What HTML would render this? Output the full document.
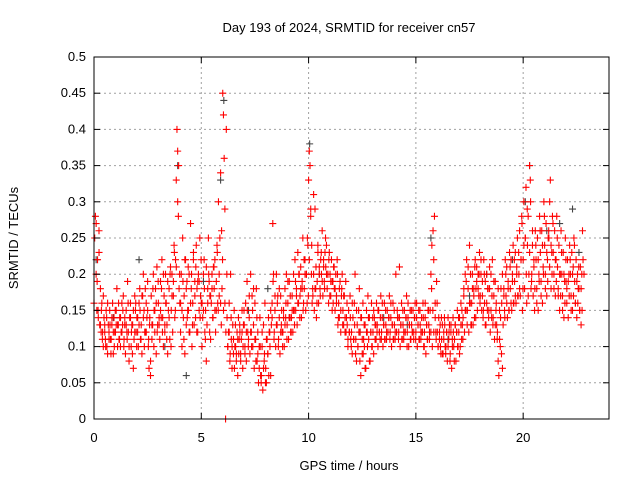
<!DOCTYPE html>
<html><head><meta charset="utf-8"><style>
body{margin:0;background:#fff}
svg{display:block;font-family:"Liberation Sans",sans-serif}
</style></head><body>
<svg id="chart" width="640" height="480">
<text x="349" y="32" font-size="13" text-anchor="middle">Day 193 of 2024, SRMTID for receiver cn57</text>
<text x="349" y="470" font-size="13" text-anchor="middle">GPS time / hours</text>
<text transform="translate(18,238) rotate(-90)" font-size="13" text-anchor="middle">SRMTID / TECUs</text>
<g id="grid"></g><g id="black"></g><g id="red"></g><g id="axes"></g>
</svg>
<script>
const xTicks=[0,5,10,15,20];
const yTicks=[0,0.05,0.1,0.15,0.2,0.25,0.3,0.35,0.4,0.45,0.5];
const yTickLabels=["0","0.05","0.1","0.15","0.2","0.25","0.3","0.35","0.4","0.45","0.5"];
const redTimes=[0,0.2,0.4,0.6,0.8,1,1.2,1.4,1.6,1.8,2,2.2,2.4,2.6,2.8,3,3.2,3.4,3.6,3.8,4,4.2,4.4,4.6,4.8,5,5.2,5.4,5.6,5.8,6,6.2,6.4,6.6,6.8,7,7.2,7.4,7.6,7.8,8,8.2,8.4,8.6,8.8,9,9.2,9.4,9.6,9.8,10,10.2,10.4,10.6,10.8,11,11.2,11.4,11.6,11.8,12,12.2,12.4,12.6,12.8,13,13.2,13.4,13.6,13.8,14,14.2,14.4,14.6,14.8,15,15.2,15.4,15.6,15.8,16,16.2,16.4,16.6,16.8,17,17.2,17.4,17.6,17.8,18,18.2,18.4,18.6,18.8,19,19.2,19.4,19.6,19.8,20,20.2,20.4,20.6,20.8,21,21.2,21.4,21.6,21.8,22,22.2,22.4,22.6];
const redValues=[
[.16,.25,.28,.2,.15,.22],[.14,.26,.13,.18,.12,.16],[.12,.1,.14,.13,.11,.15],[.1,.09,.13,.12,.15,.11],[.11,.13,.16,.09,.14,.12],
[.12,.15,.18,.1,.13,.11],[.14,.1,.12,.16,.13,.17],[.11,.13,.09,.15,.12,.19],[.12,.08,.14,.16,.1,.13],[.13,.07,.11,.17,.15,.12],
[.14,.12,.1,.16,.18,.11],[.13,.09,.17,.2,.15,.12],[.12,.16,.14,.19,.1,.07],[.14,.06,.17,.11,.13,.2],[.15,.12,.18,.09,.21,.13],
[.16,.13,.11,.19,.14,.22],[.14,.1,.17,.12,.2,.16],[.13,.09,.15,.18,.11,.21],[.15,.2,.12,.17,.24,.14],[.22,.33,.4,.37,.28,.18],
[.16,.12,.2,.1,.25,.14],[.17,.09,.22,.13,.19,.15],[.15,.2,.12,.27,.18,.1],[.16,.22,.13,.19,.14,.24],[.18,.12,.2,.15,.25,.17],
[.16,.1,.14,.2,.22,.12],[.15,.08,.13,.18,.25,.19],[.17,.11,.16,.2,.14,.21],[.18,.22,.12,.15,.24,.16],[.3,.2,.25,.16,.13,.18],
[.45,.42,.36,.29,0,.4],[.14,.1,.12,.16,.08,.2],[.11,.07,.13,.09,.15,.1],[.1,.08,.12,.06,.14,.11],[.12,.09,.11,.15,.07,.13],
[.13,.1,.16,.08,.19,.12],[.11,.14,.09,.2,.12,.17],[.1,.13,.07,.16,.11,.18],[.08,.12,.05,.1,.14,.06],[.06,.1,.04,.13,.08,.16],
[.07,.05,.11,.09,.14,.12],[.1,.06,.13,.16,.27,.2],[.12,.15,.1,.2,.13,.17],[.11,.14,.09,.17,.13,.12],[.12,.15,.1,.18,.14,.2],
[.13,.16,.11,.19,.14,.12],[.14,.17,.12,.2,.15,.22],[.15,.18,.13,.23,.16,.2],[.17,.21,.14,.19,.25,.16],[.18,.22,.15,.2,.16,.24],
[.33,.37,.35,.28,.2,.16],[.17,.2,.15,.29,.18,.14],[.19,.24,.16,.21,.18,.22],[.2,.26,.17,.22,.19,.23],[.21,.24,.18,.2,.16,.23],
[.2,.17,.22,.15,.19,.21],[.18,.15,.2,.16,.22,.13],[.16,.14,.19,.12,.17,.2],[.15,.13,.17,.12,.19,.14],[.13,.1,.15,.12,.17,.11],
[.12,.09,.14,.11,.16,.2],[.11,.08,.13,.1,.15,.18],[.12,.06,.14,.09,.16,.11],[.1,.13,.07,.15,.12,.17],[.11,.14,.08,.12,.16,.1],
[.12,.09,.14,.11,.13,.16],[.13,.1,.15,.12,.11,.17],[.12,.14,.1,.13,.16,.11],[.13,.11,.15,.12,.14,.17],[.12,.14,.1,.13,.16,.11],
[.13,.11,.2,.12,.15,.14],[.12,.14,.1,.13,.16,.11],[.13,.11,.15,.12,.14,.17],[.12,.14,.1,.13,.15,.11],[.13,.12,.15,.11,.14,.16],
[.12,.14,.1,.13,.15,.11],[.13,.11,.14,.12,.16,.1],[.12,.14,.09,.13,.11,.15],[.13,.11,.15,.12,.18,.1],[.26,.22,.28,.16,.12,.19],
[.12,.1,.14,.11,.13,.09],[.11,.13,.09,.12,.14,.1],[.1,.12,.08,.14,.11,.13],[.09,.12,.07,.11,.14,.1],[.11,.13,.08,.12,.15,.1],
[.12,.14,.1,.16,.11,.13],[.14,.17,.12,.2,.15,.22],[.15,.18,.12,.24,.16,.13],[.16,.2,.13,.18,.14,.22],[.18,.21,.15,.2,.17,.23],
[.17,.2,.15,.19,.14,.22],[.16,.19,.13,.2,.15,.18],[.15,.18,.12,.2,.14,.22],[.14,.17,.11,.19,.15,.13],[.12,.08,.06,.15,.1,.18],
[.16,.2,.13,.18,.15,.22],[.17,.21,.14,.19,.15,.23],[.18,.22,.15,.2,.24,.16],[.19,.23,.16,.21,.25,.17],[.2,.26,.17,.22,.28,.15],
[.22,.3,.18,.25,.32,.16],[.24,.28,.2,.35,.33,.18],[.2,.24,.17,.22,.15,.26],[.22,.18,.25,.15,.2,.28],[.23,.19,.26,.16,.21,.3],
[.24,.2,.27,.17,.22,.25],[.25,.21,.33,.18,.23,.28],[.23,.2,.26,.17,.22,.28],[.21,.18,.24,.15,.2,.26],[.2,.17,.23,.14,.19,.25],
[.19,.16,.22,.14,.2,.24],[.2,.17,.23,.15,.21,.25],[.19,.16,.22,.14,.2,.18],[.18,.15,.21,.13,.2,.26]];
const redTimes2=[0.1,0.3,0.5,0.7,0.9,1.1,1.3,1.5,1.7,1.9,2.1,2.3,2.5,2.7,2.9,3.1,3.3,3.5,3.7,3.9,4.1,4.3,4.5,4.7,4.9,5.1,5.3,5.5,5.7,5.9,6.1,6.3,6.5,6.7,6.9,7.1,7.3,7.5,7.7,7.9,8.1,8.3,8.5,8.7,8.9,9.1,9.3,9.5,9.7,9.9,10.1,10.3,10.5,10.7,10.9,11.1,11.3,11.5,11.7,11.9,12.1,12.3,12.5,12.7,12.9,13.1,13.3,13.5,13.7,13.9,14.1,14.3,14.5,14.7,14.9,15.1,15.3,15.5,15.7,15.9,16.1,16.3,16.5,16.7,16.9,17.1,17.3,17.5,17.7,17.9,18.1,18.3,18.5,18.7,18.9,19.1,19.3,19.5,19.7,19.9,20.1,20.3,20.5,20.7,20.9,21.1,21.3,21.5,21.7,21.9,22.1,22.3,22.5,22.7];
const redValues2=[
[.27,.19,.15,.23],[.13,.15,.11,.17],[.12,.1,.14,.16],[.11,.13,.09,.14],[.12,.1,.15,.13],
[.13,.16,.11,.14],[.12,.15,.1,.14],[.13,.11,.16,.1],[.14,.12,.09,.15],[.12,.16,.1,.14],
[.13,.15,.11,.17],[.14,.1,.18,.12],[.15,.11,.13,.08],[.13,.18,.1,.15],[.16,.12,.19,.14],
[.15,.18,.12,.2],[.13,.16,.11,.19],[.14,.2,.1,.17],[.19,.23,.15,.21],[.3,.35,.2,.16],
[.15,.19,.11,.22],[.18,.14,.21,.12],[.16,.2,.13,.23],[.17,.21,.12,.19],[.19,.14,.22,.16],
[.15,.18,.11,.21],[.16,.2,.12,.17],[.18,.14,.21,.15],[.19,.23,.15,.17],[.34,.26,.22,.15],
[.16,.12,.2,.1],[.12,.09,.14,.1],[.11,.07,.13,.09],[.11,.09,.13,.08],[.12,.1,.15,.09],
[.12,.15,.1,.17],[.12,.1,.15,.18],[.11,.08,.14,.09],[.07,.1,.05,.12],[.07,.09,.05,.11],
[.09,.06,.12,.15],[.14,.19,.11,.17],[.13,.16,.1,.18],[.12,.15,.1,.14],[.13,.16,.11,.19],
[.14,.17,.12,.15],[.15,.13,.19,.17],[.16,.2,.14,.18],[.18,.15,.22,.2],[.2,.25,.17,.22],
[.29,.24,.18,.31],[.18,.21,.16,.23],[.2,.17,.23,.19],[.21,.18,.25,.2],[.2,.22,.17,.19],
[.19,.16,.21,.18],[.17,.2,.14,.18],[.15,.18,.13,.17],[.14,.12,.16,.11],[.12,.14,.1,.16],
[.11,.13,.09,.15],[.1,.12,.08,.14],[.11,.09,.13,.07],[.12,.1,.14,.08],[.12,.1,.14,.15],
[.13,.11,.12,.15],[.12,.14,.11,.16],[.13,.11,.15,.12],[.12,.14,.11,.16],[.13,.11,.15,.12],
[.12,.14,.11,.21],[.13,.11,.15,.12],[.12,.14,.1,.16],[.13,.11,.15,.12],[.12,.14,.11,.16],
[.13,.11,.15,.12],[.12,.14,.1,.16],[.13,.11,.15,.12],[.2,.24,.15,.12],[.14,.11,.16,.1],
[.12,.1,.14,.09],[.11,.13,.09,.12],[.1,.12,.08,.13],[.1,.12,.08,.13],[.12,.1,.14,.09],
[.13,.15,.11,.18],[.15,.19,.13,.21],[.16,.2,.13,.18],[.17,.21,.14,.19],[.18,.2,.16,.22],
[.17,.15,.2,.13],[.16,.18,.14,.21],[.15,.17,.13,.19],[.13,.16,.11,.18],[.11,.14,.09,.07],
[.17,.14,.2,.16],[.18,.15,.21,.16],[.19,.16,.22,.17],[.2,.17,.23,.18],[.22,.27,.18,.24],
[.25,.2,.29,.17],[.23,.3,.19,.26],[.21,.18,.24,.16],[.22,.19,.26,.17],[.24,.2,.28,.18],
[.23,.19,.26,.3],[.24,.2,.27,.18],[.22,.19,.25,.17],[.2,.17,.23,.15],[.2,.16,.22,.18],
[.19,.17,.22,.15],[.2,.17,.24,.16],[.19,.16,.21,.15],[.18,.15,.22,.2]];
const blackTimes=[0.1,0.9,2.1,3.3,3.9,4.3,5.1,5.9,6.05,7.2,8.1,9.1,10.05,10.5,11.3,12.4,13.5,14.6,15.7,16.5,17.5,18.3,19.5,20.1,20.3,21.1,21.7,22.3,22.6];
const blackValues=[0.22,0.14,0.22,0.1,0.35,0.06,0.19,0.33,0.44,0.15,0.18,0.14,0.38,0.2,0.17,0.12,0.14,0.13,0.25,0.11,0.17,0.2,0.22,0.3,0.35,0.26,0.27,0.29,0.23];
const X0=94,X1=609,Y0=419,Y1=57,XMAX=24,YMAX=0.5;
const xs=v=>X0+(X1-X0)*v/XMAX, ys=v=>Y0-(Y0-Y1)*v/YMAX;
const NS="http://www.w3.org/2000/svg";
function mk(tag,attrs,parent){const e=document.createElementNS(NS,tag);for(const k in attrs)e.setAttribute(k,attrs[k]);parent.appendChild(e);return e;}
const grid=document.getElementById('grid'),axes=document.getElementById('axes');
yTicks.forEach((v,i)=>{
  const y=ys(v);
  if(i>0&&i<yTicks.length-1){const g=mk('line',{x1:X0,x2:X1,y1:y,y2:y,stroke:'#a0a0a0','stroke-dasharray':'2,3'},grid);
  
  }
  const t1=mk('line',{x1:X0,x2:X0+6,y1:y,y2:y,stroke:'#000'},axes);
  
  
  mk('line',{x1:X1-6,x2:X1,y1:y,y2:y,stroke:'#000'},axes);
  const tx=mk('text',{x:X0-8,y:y+4,'font-size':13,'text-anchor':'end'},axes);tx.textContent=yTickLabels[i];
  
  
});
xTicks.forEach(v=>{
  const x=xs(v);
  if(v>0){const g=mk('line',{x1:x,x2:x,y1:Y1,y2:Y0,stroke:'#a0a0a0','stroke-dasharray':'2,3'},grid);
  
  }
  const t1=mk('line',{x1:x,x2:x,y1:Y0,y2:Y0-6,stroke:'#000'},axes);
  
  
  mk('line',{x1:x,x2:x,y1:Y1,y2:Y1+6,stroke:'#000'},axes);
  const tx=mk('text',{x:x,y:Y0+23,'font-size':13,'text-anchor':'middle'},axes);tx.textContent=String(v);
  
  
});
const bd=mk('rect',{x:X0,y:Y1,width:X1-X0,height:Y0-Y1,fill:'none',stroke:'#000'},axes);


function plus(parent,x,y,col,name){
  const p=mk('path',{d:`M${x-3.5},${y}h7M${x},${y-3.5}v7`,stroke:col,'stroke-width':1.1,fill:'none'},parent);
  
  
}
const bl=document.getElementById('black'),rd=document.getElementById('red');
blackTimes.forEach((t,i)=>plus(bl,xs(t),ys(blackValues[i]),'#444','black-point'));
redTimes.forEach((t,i)=>redValues[i].forEach((v,k)=>plus(rd,xs(t+k*0.033),ys(v),'#ff0000','red-point')));
redTimes2.forEach((t,i)=>redValues2[i].forEach((v,k)=>plus(rd,xs(t+k*0.045),ys(v),'#ff0000','red-point')));
</script>
</body></html>
